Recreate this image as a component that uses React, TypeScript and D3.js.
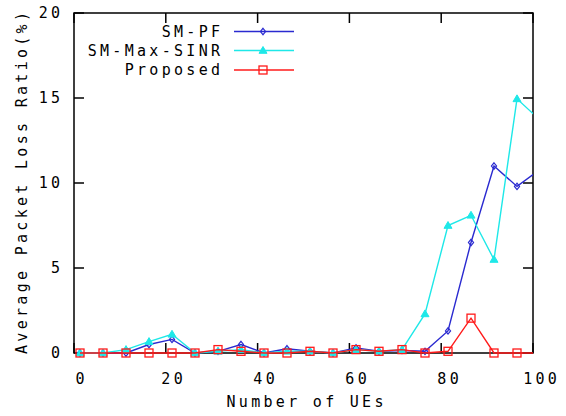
import React from "react";
import * as d3 from "d3";

const xValues = [0, 5, 10, 15, 20, 25, 30, 35, 40, 45, 50, 55, 60, 65, 70, 75, 80, 85, 90, 95, 100];
const smPF = [0, 0, 0, 0.5, 0.8, 0, 0.1, 0.5, 0, 0.25, 0.1, 0, 0.3, 0.1, 0.15, 0.1, 1.3, 6.5, 11.0, 9.8, 10.8];
const smMaxSINR = [0, 0, 0.2, 0.67, 1.1, 0, 0.1, 0.2, 0, 0.1, 0.1, 0, 0.2, 0.1, 0.2, 2.3, 7.5, 8.1, 5.5, 14.95, 13.7];
const proposed = [0, 0, 0, 0, 0, 0, 0.2, 0.1, 0, 0, 0.1, 0, 0.2, 0.1, 0.2, 0, 0.1, 2.05, 0, 0, 0];
const xTicks = [0, 20, 40, 60, 80, 100];
const yTicks = [0, 5, 10, 15, 20];
const seriesNames = ["SM-PF", "SM-Max-SINR", "Proposed"];
const seriesColors = ["#2a2ad0", "#1ee8e8", "#ff1a1a"];

const W = 566, H = 416;
const L = 74, R = 533, T = 13, B = 353;
const FONT = "'DejaVu Sans Mono', monospace";
const LS = 3.3;

export default function App() {
  const xFrame = d3.scaleLinear().domain([0, 100]).range([L, R]);
  const xData = d3.scaleLinear().domain([0, 100]).range([80, 540]);
  const y = d3.scaleLinear().domain([0, 20]).range([B, T]);
  const data = [smPF, smMaxSINR, proposed];
  const line = d3.line<number>().x((_, i) => xData(xValues[i])).y((v) => y(v));

  const marker = (k: number, cx: number, cy: number, key: string) => {
    const c = seriesColors[k];
    if (k === 0) {
      const s = 3.2;
      return <path key={key} d={`M${cx},${cy - s}L${cx + s * 0.8},${cy}L${cx},${cy + s}L${cx - s * 0.8},${cy}Z`} fill="none" stroke={c} strokeWidth={1.2} />;
    }
    if (k === 1) {
      const s = 4;
      return <path key={key} d={`M${cx},${cy - s}L${cx + s},${cy + s * 0.7}L${cx - s},${cy + s * 0.7}Z`} fill={c} stroke={c} strokeWidth={1} />;
    }
    return <rect key={key} x={cx - 4} y={cy - 4} width={8} height={8} fill="none" stroke={c} strokeWidth={1.3} />;
  };

  const legendY = [31.5, 50.5, 70];

  return (
    <svg width={W} height={H} style={{ position: "absolute", left: 0, top: 0, background: "#fff" }}>
      <defs>
        <clipPath id="plotclip">
          <rect x={L} y={T - 6} width={R - L} height={B - T + 12} />
        </clipPath>
      </defs>
      {xTicks.map((t) => (
        <g key={"xt" + t}>
          <line x1={xFrame(t)} x2={xFrame(t)} y1={B} y2={B - 10} stroke="#000" strokeWidth={1.5} />
          <line x1={xFrame(t)} x2={xFrame(t)} y1={T} y2={T + 10} stroke="#000" strokeWidth={1.5} />
          <text x={xData(t) + LS / 2} y={B + 31} textAnchor="middle" fontFamily={FONT} fontSize={15} letterSpacing={LS} fill="#000">{t}</text>
        </g>
      ))}
      {yTicks.map((t) => (
        <g key={"yt" + t}>
          <line x1={L} x2={L + 10} y1={y(t)} y2={y(t)} stroke="#000" strokeWidth={1.5} />
          <line x1={R} x2={R - 10} y1={y(t)} y2={y(t)} stroke="#000" strokeWidth={1.5} />
          <text x={60 + LS} y={y(t) + 5} textAnchor="end" fontFamily={FONT} fontSize={15} letterSpacing={LS} fill="#000">{t}</text>
        </g>
      ))}
      <rect x={L} y={T} width={R - L} height={B - T} fill="none" stroke="#000" strokeWidth={1.5} />
      <g clipPath="url(#plotclip)">
        {data.map((d, k) => (
          <g key={"s" + k}>
            <path d={line(d) || ""} fill="none" stroke={seriesColors[k]} strokeWidth={1.4} />
            {d.map((v, i) => xData(xValues[i]) <= R ? marker(k, xData(xValues[i]), y(v), `m${k}-${i}`) : null)}
          </g>
        ))}
      </g>
      {seriesNames.map((n, k) => (
        <g key={"lg" + k}>
          <text x={220 + LS} y={legendY[k] + 5} textAnchor="end" fontFamily={FONT} fontSize={15} letterSpacing={LS} fill="#000">{n}</text>
          <line x1={234} x2={294} y1={legendY[k]} y2={legendY[k]} stroke={seriesColors[k]} strokeWidth={1.4} />
          {marker(k, 263, legendY[k], "lm" + k)}
        </g>
      ))}
      <text x={305 + LS / 2} y={407} textAnchor="middle" fontFamily={FONT} fontSize={15} letterSpacing={LS} fill="#000">Number of UEs</text>
      <text transform={`translate(27,${183 - LS / 2}) rotate(-90)`} textAnchor="middle" fontFamily={FONT} fontSize={15} letterSpacing={LS} fill="#000">Average Packet Loss Ratio(%)</text>
    </svg>
  );
}
